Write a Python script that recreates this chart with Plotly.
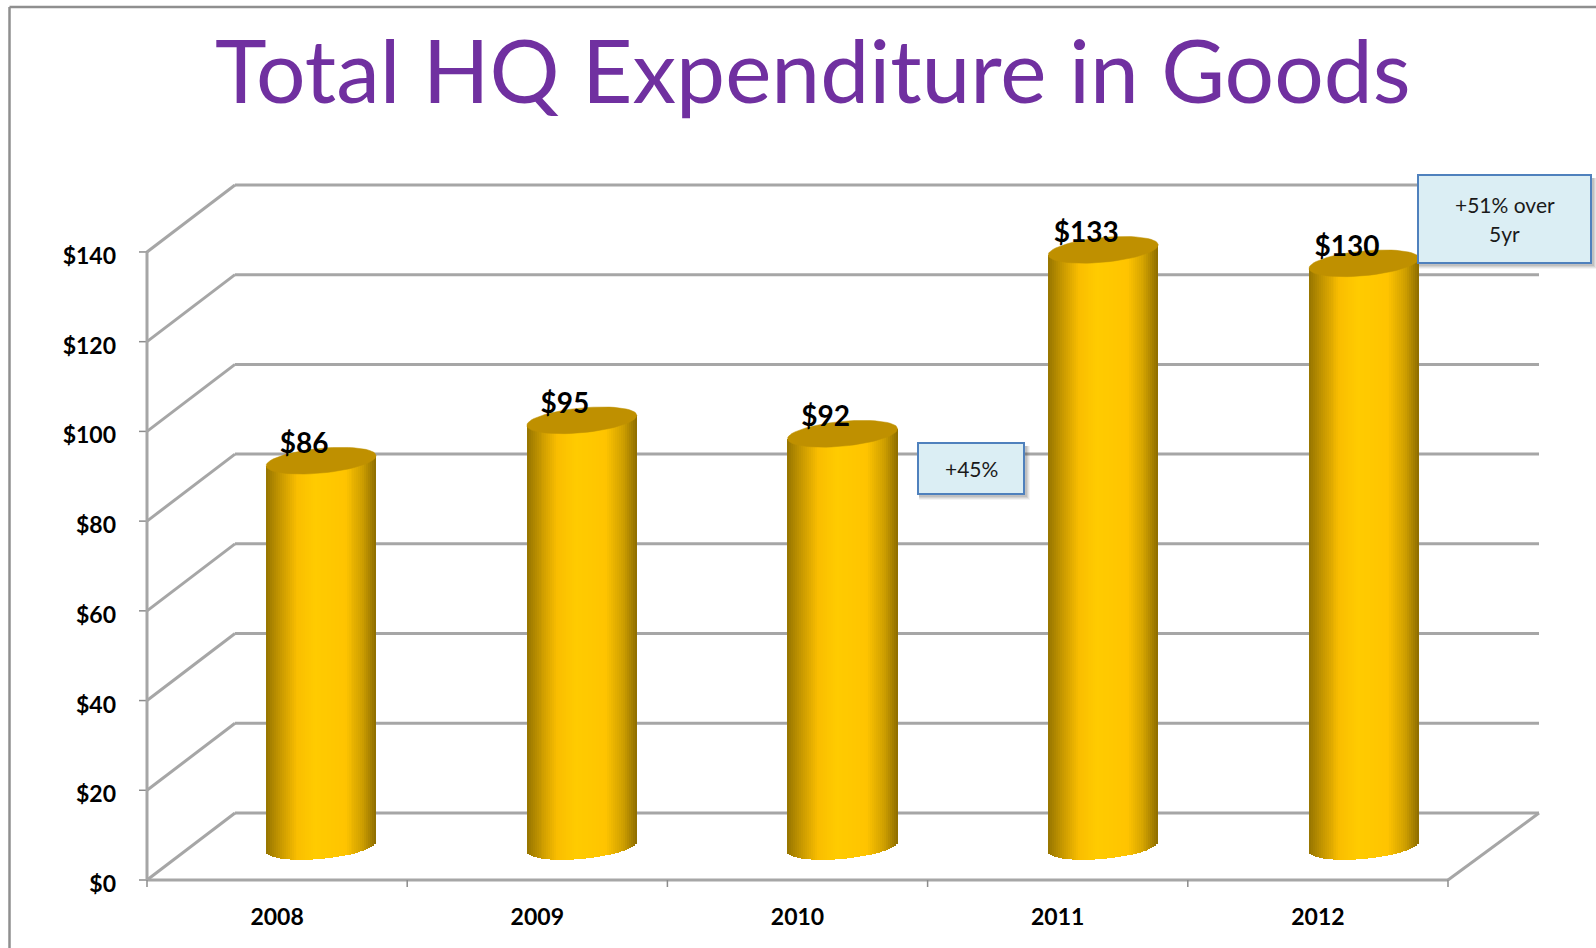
import math
import plotly.graph_objects as go

# ---------- data ----------
YEARS = ["2008", "2009", "2010", "2011", "2012"]
VALUES = [86, 95, 92, 133, 130]
Y_TICKS = [0, 20, 40, 60, 80, 100, 120, 140]
Y_TICK_LABELS = ["$0", "$20", "$40", "$60", "$80", "$100", "$120", "$140"]
TITLE = "Total HQ Expenditure in Goods"
NOTE_45 = ["+45%"]
NOTE_51 = ["+51% over", "5yr"]

# ---------- layout constants ----------
W, H = 1596, 948
X0_PX, UNIT_X = 147.0, 260.2      # pixel of x=-0.5, px per category
Y0_PX, UNIT_Y = 880.0, 4.486      # pixel of y=0, px per value
PLOT_L, PLOT_R, PLOT_T, PLOT_B = 127, 1548, 175, 890
DEPTH_X = 88 / UNIT_X
DEPTH_Y = 67 / UNIT_Y
HALF_W = 55 / UNIT_X
ELL_B = 12.4 / UNIT_Y
ELL_C = 5.0 / UNIT_Y
CYL_STEP = 1.002
BACK_EXTRA = 3 / UNIT_X
FONT = "Lato"

x_range = [-0.5 + (PLOT_L - X0_PX) / UNIT_X, -0.5 + (PLOT_R - X0_PX) / UNIT_X]
y_range = [(Y0_PX - PLOT_B) / UNIT_Y, (Y0_PX - PLOT_T) / UNIT_Y]
LEFT = -0.5
RIGHT = len(YEARS) - 0.5


def px(x):
    return (x - PLOT_L) / (PLOT_R - PLOT_L)


def py(y):
    return (PLOT_B - y) / (PLOT_B - PLOT_T)


def lerp(stops, f):
    for (a, ca), (b, cb) in zip(stops, stops[1:]):
        if f <= b:
            k = (f - a) / (b - a)
            return "rgb(%d,%d,%d)" % tuple(round(p + (q - p) * k) for p, q in zip(ca, cb))
    return "rgb(%d,%d,%d)" % stops[-1][1]


SHADE = [
    (0.0, (150, 116, 0)),
    (0.12, (196, 150, 0)),
    (0.28, (250, 190, 0)),
    (0.45, (255, 203, 0)),
    (0.72, (255, 196, 0)),
    (0.88, (205, 158, 0)),
    (1.0, (140, 108, 0)),
]

fig = go.Figure()

# cylinder bodies, drawn as thin vertical bars shaded across the width
N = 56
for i, v in enumerate(VALUES):
    cx = i * CYL_STEP + DEPTH_X / 2
    xs, bases, heights, cols = [], [], [], []
    for k in range(N):
        f = (k + 0.5) / N
        u = 2 * f - 1
        s = math.sqrt(max(0.0, 1 - u * u))
        low = DEPTH_Y / 2 + ELL_C * u - ELL_B * s
        top = v + DEPTH_Y / 2 + ELL_C * u
        xs.append(cx + u * HALF_W)
        bases.append(low)
        heights.append(top - low)
        cols.append(lerp(SHADE, f))
    fig.add_trace(go.Bar(
        x=xs, y=heights, base=bases, width=2 * HALF_W / N * 1.05,
        marker=dict(color=cols, line=dict(width=0)),
        showlegend=False, hoverinfo="skip",
    ))

# cylinder tops
for i, v in enumerate(VALUES):
    cx = i * CYL_STEP + DEPTH_X / 2
    ex, ey = [], []
    for a in range(0, 361, 6):
        t = math.radians(a)
        ex.append(cx + HALF_W * math.cos(t))
        ey.append(v + DEPTH_Y / 2 + ELL_C * math.cos(t) + ELL_B * math.sin(t))
    fig.add_trace(go.Scatter(
        x=ex, y=ey, mode="lines", fill="toself", fillcolor="#BF9000",
        line=dict(color="#BF9000", width=0.5), showlegend=False, hoverinfo="skip",
    ))

# value labels
fig.add_trace(go.Scatter(
    x=[i * CYL_STEP + DEPTH_X / 2 - 17 / UNIT_X for i in range(len(VALUES))],
    y=[v + DEPTH_Y / 2 + 14.5 / UNIT_Y for v in VALUES],
    mode="text", text=["$%d" % v for v in VALUES], textposition="middle center",
    textfont=dict(family=FONT, size=28, color="#000000", weight="bold"),
    showlegend=False, hoverinfo="skip", cliponaxis=False,
))

GRID = dict(color="#a6a6a6", width=3)
TICK = dict(color="#8c8c8c", width=1.5)
shapes = []


def seg(x0, y0, x1, y1, line):
    shapes.append(dict(type="line", xref="x", yref="y", x0=x0, y0=y0, x1=x1, y1=y1,
                       line=line, layer="below"))


for v in Y_TICKS:
    seg(LEFT, v, LEFT + DEPTH_X, v + DEPTH_Y, GRID)
    seg(LEFT + DEPTH_X, v + DEPTH_Y, RIGHT + DEPTH_X + BACK_EXTRA, v + DEPTH_Y, GRID)
    seg(LEFT - 8 / UNIT_X, v, LEFT, v, TICK)
seg(LEFT, 0, LEFT, Y_TICKS[-1], GRID)
seg(LEFT, 0, RIGHT, 0, GRID)
seg(RIGHT, 0, RIGHT + DEPTH_X + BACK_EXTRA, DEPTH_Y, GRID)
for k in range(len(YEARS) + 1):
    seg(LEFT + k, 0, LEFT + k, -7 / UNIT_Y, TICK)

# page frame
FRAME = dict(color="#8f8f8f", width=2.5)
for a, b, c, d in [(9.5, 7, W + 5, 7), (9.5, 7, 9.5, H + 5)]:
    shapes.append(dict(type="line", xref="paper", yref="paper",
                       x0=px(a), y0=py(b), x1=px(c), y1=py(d), line=FRAME, layer="above"))


def note(l, t, r, b, lines, line_gap=30):
    for o, alpha in [(6, .06), (5, .08), (4, .10), (3, .12)]:
        shapes.append(dict(type="rect", xref="paper", yref="paper",
                           x0=px(l + 1), x1=px(r + o), y0=py(t + 3), y1=py(b + o),
                           line=dict(width=0), fillcolor="rgba(60,60,60,%s)" % alpha, layer="above"))
    shapes.append(dict(type="rect", xref="paper", yref="paper",
                       x0=px(l), x1=px(r), y0=py(t), y1=py(b),
                       line=dict(color="#4F81BD", width=2), fillcolor="#DBEEF4", layer="above"))
    mid = (t + b) / 2
    top = mid - line_gap * (len(lines) - 1) / 2
    out = []
    for j, s in enumerate(lines):
        out.append(dict(text=s, xref="paper", yref="paper", x=px((l + r) / 2), y=py(top + j * line_gap),
                        xanchor="center", yanchor="middle", showarrow=False,
                        font=dict(family=FONT, size=21, color="#1a1a1a")))
    return out


annotations = [dict(text=TITLE, xref="paper", yref="paper", x=px(813), y=py(69),
                    xanchor="center", yanchor="middle", showarrow=False,
                    font=dict(family=FONT, size=87.5, color="#7030A0"))]
annotations += note(918, 443, 1024, 494, NOTE_45)
annotations += note(1418, 175, 1591, 263, NOTE_51)

fig.update_layout(
    width=W, height=H, autosize=False,
    paper_bgcolor="white", plot_bgcolor="rgba(0,0,0,0)",
    margin=dict(l=PLOT_L, r=W - PLOT_R, t=PLOT_T, b=H - PLOT_B, pad=0),
    showlegend=False, barmode="overlay", bargap=0,
    shapes=shapes, annotations=annotations,
    xaxis=dict(range=x_range, tickmode="array", tickvals=list(range(len(YEARS))), ticktext=YEARS,
               showgrid=False, zeroline=False, showline=False, ticks="", ticklabelstandoff=11,
               tickfont=dict(family=FONT, size=23, color="#000000", weight="bold")),
    yaxis=dict(range=y_range, tickmode="array", tickvals=Y_TICKS, ticktext=Y_TICK_LABELS,
               showgrid=False, zeroline=False, showline=False, ticks="", ticklabelstandoff=10,
               ticklabelshift=4,
               tickfont=dict(family=FONT, size=23, color="#000000", weight="bold")),
)

fig.write_html("out.html", config=dict(displayModeBar=False),
               post_script="document.body.style.margin='0';")
